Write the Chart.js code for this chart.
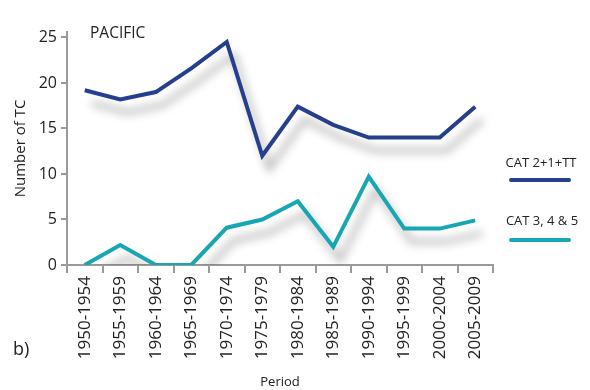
<!DOCTYPE html>
<html lang="en">
<head>
    <meta charset="UTF-8">
    <title>Pacific TC</title>
    <script src="https://cdn.jsdelivr.net/npm/chart.js"></script>
    <style>
        body { margin: 0; background: #fff; }
        #wrap { width: 590px; height: 390px; }
    </style>
</head>
<body>
    <div id="wrap"><canvas id="tcChart" width="590" height="390"></canvas></div>

    <script>
        const periods = ['1950-1954', '1955-1959', '1960-1964', '1965-1969', '1970-1974', '1975-1979',
                         '1980-1984', '1985-1989', '1990-1994', '1995-1999', '2000-2004', '2005-2009'];
        const cat21tt = [19.2, 18.2, 19.0, 21.6, 24.5, 12.0, 17.4, 15.4, 14.0, 14.0, 14.0, 17.4];
        const cat345 = [0, 2.2, 0, 0, 4.1, 5.0, 7.0, 2.0, 9.7, 4.0, 4.0, 4.9];
        const yTicks = [0, 5, 10, 15, 20, 25];

        const FONT = '"Open Sans", "Noto Sans", sans-serif';
        const BLUE = '#253f8e';
        const TEAL = '#17a6b4';
        const AXIS = '#9a9a9a';

        // soft drop shadow under the lines
        const shadowPlugin = {
            id: 'shadow',
            beforeDatasetsDraw(chart) {
                const ctx = chart.ctx;
                ctx.save();
                ctx.shadowColor = 'rgba(0,0,0,0.35)';
                ctx.shadowBlur = 10;
                ctx.shadowOffsetX = 7;
                ctx.shadowOffsetY = 13;
            },
            afterDatasetsDraw(chart) {
                chart.ctx.restore();
            }
        };

        // legend on the right: label above a short line
        const legendSpots = [{ x: 541, y: 163, lineY: 180 }, { x: 542, y: 221, lineY: 240 }];
        const sideText = {
            id: 'sideText',
            afterDraw(chart) {
                const ctx = chart.ctx;
                ctx.save();
                ctx.fillStyle = '#222';
                ctx.textAlign = 'center';
                ctx.textBaseline = 'middle';
                chart.data.datasets.forEach((ds, i) => {
                    const s = legendSpots[i];
                    ctx.font = '13px ' + FONT;
                    ctx.fillText(ds.label, s.x, s.y);
                    ctx.strokeStyle = ds.borderColor;
                    ctx.lineWidth = 4;
                    ctx.lineCap = 'round';
                    ctx.beginPath();
                    ctx.moveTo(511, s.lineY);
                    ctx.lineTo(569, s.lineY);
                    ctx.stroke();
                });
                ctx.textAlign = 'left';
                ctx.font = '15.5px ' + FONT;
                ctx.fillText('PACIFIC', 90, 34);
                ctx.font = '18px ' + FONT;
                ctx.fillText('b)', 13, 350);
                ctx.restore();
            }
        };

        new Chart(document.getElementById('tcChart'), {
            type: 'line',
            data: {
                labels: periods,
                datasets: [
                    { label: 'CAT 2+1+TT', data: cat21tt, borderColor: BLUE, borderWidth: 4 },
                    { label: 'CAT 3, 4 & 5', data: cat345, borderColor: TEAL, borderWidth: 4 }
                ]
            },
            options: {
                responsive: false,
                animation: false,
                devicePixelRatio: 1,
                layout: { padding: { top: 32, right: 97, bottom: 0, left: 0 } },
                elements: {
                    point: { radius: 0 },
                    line: { tension: 0, borderJoinStyle: 'miter', fill: false }
                },
                plugins: {
                    legend: { display: false },
                    tooltip: { enabled: false }
                },
                scales: {
                    x: {
                        offset: true,
                        afterFit: s => { s.height = 125; },
                        border: { color: AXIS, width: 2 },
                        grid: { offset: true, drawOnChartArea: false, color: AXIS, lineWidth: 2, tickLength: 8 },
                        ticks: {
                            minRotation: 90, maxRotation: 90, padding: 3, autoSkip: false,
                            color: '#222', font: { family: FONT, size: 17 }
                        },
                        title: {
                            display: true, text: 'Period', color: '#222',
                            font: { family: FONT, size: 13 }, padding: { top: 0, bottom: 0 }
                        }
                    },
                    y: {
                        min: 0,
                        max: 25.6,
                        afterFit: s => { s.width = 67; },
                        afterBuildTicks: s => { s.ticks = yTicks.map(v => ({ value: v })); },
                        border: { color: AXIS, width: 2 },
                        grid: { drawOnChartArea: false, color: AXIS, lineWidth: 2, tickLength: 6 },
                        ticks: { padding: 4, color: '#222', font: { family: FONT, size: 16 } },
                        title: {
                            display: true, text: 'Number of TC', color: '#222',
                            font: { family: FONT, size: 15 }, padding: { top: 12, bottom: 0 }
                        }
                    }
                }
            },
            plugins: [shadowPlugin, sideText]
        });
    </script>
</body>
</html>
